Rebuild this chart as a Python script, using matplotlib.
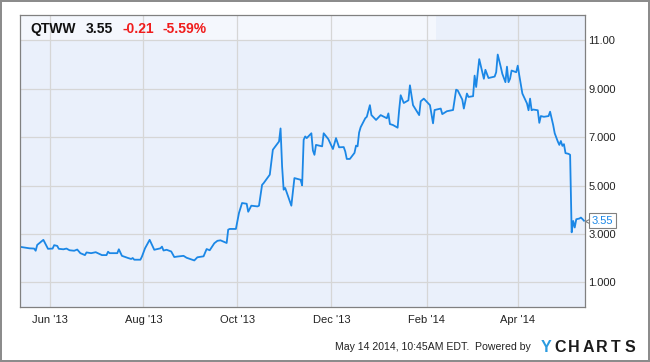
import matplotlib
matplotlib.use("Agg")
import matplotlib.pyplot as plt
import matplotlib.transforms as mtransforms
import pandas as pd

# QTWW daily close
dates = [
    "2013-05-12", "2013-05-14", "2013-05-19", "2013-05-22", "2013-05-23", "2013-05-24",
    "2013-05-28", "2013-05-31", "2013-06-03", "2013-06-04", "2013-06-06", "2013-06-07",
    "2013-06-10", "2013-06-12", "2013-06-14", "2013-06-17", "2013-06-19", "2013-06-21",
    "2013-06-24", "2013-06-25", "2013-06-28", "2013-07-01", "2013-07-05", "2013-07-08",
    "2013-07-09", "2013-07-10", "2013-07-15", "2013-07-16", "2013-07-18", "2013-07-22",
    "2013-07-24", "2013-07-25", "2013-07-26", "2013-07-30", "2013-07-31", "2013-08-02",
    "2013-08-05", "2013-08-08", "2013-08-12", "2013-08-13", "2013-08-14", "2013-08-16",
    "2013-08-19", "2013-08-21", "2013-08-23", "2013-08-27", "2013-08-29", "2013-09-03",
    "2013-09-05", "2013-09-09", "2013-09-11", "2013-09-13", "2013-09-16", "2013-09-18",
    "2013-09-20", "2013-09-23", "2013-09-24", "2013-09-25", "2013-09-26", "2013-09-30",
    "2013-10-02", "2013-10-04", "2013-10-07", "2013-10-08", "2013-10-10", "2013-10-14",
    "2013-10-15", "2013-10-17", "2013-10-18", "2013-10-22", "2013-10-24", "2013-10-28",
    "2013-10-29", "2013-10-30", "2013-10-31", "2013-11-01", "2013-11-05", "2013-11-07",
    "2013-11-11", "2013-11-12", "2013-11-13", "2013-11-14", "2013-11-15", "2013-11-18",
    "2013-11-19", "2013-11-20", "2013-11-21", "2013-11-25", "2013-11-26", "2013-11-29",
    "2013-12-02", "2013-12-04", "2013-12-06", "2013-12-09", "2013-12-10", "2013-12-11",
    "2013-12-13", "2013-12-16", "2013-12-17", "2013-12-18", "2013-12-19", "2013-12-20",
    "2013-12-23", "2013-12-24", "2013-12-26", "2013-12-27", "2013-12-30", "2014-01-02",
    "2014-01-06", "2014-01-07", "2014-01-08", "2014-01-10", "2014-01-13", "2014-01-14",
    "2014-01-15", "2014-01-17", "2014-01-20", "2014-01-21", "2014-01-23", "2014-01-27",
    "2014-01-28", "2014-01-30", "2014-02-03", "2014-02-05", "2014-02-06", "2014-02-10",
    "2014-02-11", "2014-02-14", "2014-02-18", "2014-02-20", "2014-02-21", "2014-02-24",
    "2014-02-25", "2014-02-27", "2014-02-28", "2014-03-03", "2014-03-04", "2014-03-05",
    "2014-03-07", "2014-03-10", "2014-03-11", "2014-03-13", "2014-03-17", "2014-03-18",
    "2014-03-19", "2014-03-21", "2014-03-22", "2014-03-24", "2014-03-25", "2014-03-26",
    "2014-03-27", "2014-03-28", "2014-03-31", "2014-04-01", "2014-04-02", "2014-04-04",
    "2014-04-07", "2014-04-08", "2014-04-09", "2014-04-10", "2014-04-11", "2014-04-14",
    "2014-04-15", "2014-04-16", "2014-04-18", "2014-04-21", "2014-04-22", "2014-04-24",
    "2014-04-25", "2014-04-27", "2014-04-28", "2014-04-29", "2014-04-30", "2014-05-01",
    "2014-05-02", "2014-05-04", "2014-05-05", "2014-05-06", "2014-05-07", "2014-05-08",
    "2014-05-09", "2014-05-11", "2014-05-12", "2014-05-13", "2014-05-14",
]
prices = [
    2.48, 2.46, 2.41, 2.40, 2.31, 2.55,
    2.76, 2.39, 2.40, 2.54, 2.51, 2.39,
    2.37, 2.40, 2.33, 2.31, 2.36, 2.21,
    2.13, 2.24, 2.21, 2.25, 2.13, 2.13,
    2.27, 2.21, 2.21, 2.37, 2.10, 2.01,
    1.97, 2.01, 1.94, 1.94, 2.07, 2.41,
    2.76, 2.35, 2.41, 2.48, 2.32, 2.35,
    2.28, 2.05, 2.07, 2.10, 2.02, 1.91,
    2.04, 2.08, 2.38, 2.33, 2.62, 2.72,
    2.74, 2.66, 2.63, 3.18, 3.21, 3.21,
    3.87, 4.28, 4.25, 3.92, 4.17, 4.14,
    4.17, 5.03, 5.10, 5.45, 6.48, 6.82,
    7.36, 5.79, 4.83, 4.90, 4.17, 5.31,
    5.24, 5.01, 6.89, 7.03, 6.96, 7.16,
    6.45, 6.27, 6.68, 6.62, 7.16, 6.92,
    6.51, 6.96, 6.58, 6.59, 6.41, 6.10,
    6.10, 6.35, 6.65, 6.62, 7.19, 7.41,
    7.78, 7.84, 8.32, 7.91, 7.71, 7.91,
    7.78, 7.98, 7.54, 7.50, 7.39, 8.12,
    8.73, 8.41, 8.52, 9.14, 8.32, 7.91,
    8.48, 8.59, 8.32, 7.57, 8.12, 8.18,
    7.95, 8.07, 8.12, 8.96, 8.93, 8.55,
    8.18, 8.80, 8.66, 8.69, 9.54, 9.07,
    10.22, 9.41, 9.78, 9.44, 9.50, 9.68,
    10.41, 9.89, 9.61, 9.27, 9.91, 9.27,
    9.41, 9.75, 9.68, 9.95, 9.55, 8.80,
    8.39, 8.11, 8.59, 8.11, 8.14, 8.11,
    7.59, 7.87, 7.84, 7.87, 8.05, 7.50,
    7.16, 6.82, 6.68, 6.84, 6.64, 6.71,
    6.34, 6.31, 6.27, 3.07, 3.54, 3.27,
    3.61, 3.64, 3.68, 3.62, 3.55,
]

ticker = "QTWW"
last_price = 3.55
change = -0.21
change_pct = -5.59

ytick_vals = [1, 3, 5, 7, 9, 11]
ytick_labels = ["1.000", "3.000", "5.000", "7.000", "9.000", "11.00"]
xtick_dates = pd.date_range("2013-06-01", "2014-04-01", freq="2MS")

blue = "#1b87e6"
plt.rcParams["font.family"] = ["Liberation Sans", "DejaVu Sans"]

fig = plt.figure(figsize=(6.5, 3.62), dpi=100, facecolor="white",
                 edgecolor="#8c8c8c", linewidth=1.5)
ax = fig.add_axes([19.5 / 650, 1 - 306.7 / 362, 565.5 / 650, 291.4 / 362])
ax.set_facecolor("#eaf0fb")

x = pd.to_datetime(dates)
ax.plot(x, prices, color=blue, lw=1.3, zorder=2)

ax.set_xlim(pd.Timestamp("2013-05-12 12:00"), pd.Timestamp("2014-05-14 16:00"))
ax.set_ylim(0, 12.03)

# lighter header band
ax.axhspan(11, 12.03, xmin=0, xmax=0.737, color="#f4f7fd", zorder=0.2, lw=0)

ax.set_axisbelow(True)
ax.grid(True, color="#d6d6d6", lw=0.9)

ax.set_xticks(xtick_dates)
ax.set_xticklabels([d.strftime("%b '%y") for d in xtick_dates])
ax.set_yticks(ytick_vals)
ax.set_yticklabels(ytick_labels)
ax.yaxis.tick_right()
ax.tick_params(axis="y", length=0, pad=2.5, labelsize=8, labelcolor="#222222")
ax.tick_params(axis="x", length=0, pad=6, labelsize=8, labelcolor="#222222")
for s in ax.spines.values():
    s.set_color("#808080")
    s.set_linewidth(0.9)

# last value flag
notch = mtransforms.ScaledTranslation(0.038, 0, fig.dpi_scale_trans)
ax.plot([1.0], [prices[-1]], marker="<", ms=5.5, mfc="white", mec="#808080",
        mew=0.8, clip_on=False, transform=ax.get_yaxis_transform() + notch, zorder=2.5)
ax.annotate(f"{last_price:.2f}", xy=(1, prices[-1]), xycoords=("axes fraction", "data"),
            xytext=(5, 0), textcoords="offset points", ha="left", va="center",
            fontsize=8, color=blue, annotation_clip=False, zorder=3,
            bbox=dict(boxstyle="square,pad=0.25", fc="white", ec="#808080", lw=0.8))

# header
hy = 1 - 28.8 / 362
fig.text(30.7 / 650, hy, ticker, fontsize=10, fontweight="bold", color="#111111", va="center")
fig.text(86 / 650, hy, f"{last_price:.2f}", fontsize=10, fontweight="bold", color="#111111", va="center")
fig.text(122.7 / 650, hy, f"{change:.2f}", fontsize=10, fontweight="bold", color="#f01c1c", va="center")
fig.text(163 / 650, hy, f"{change_pct:.2f}%", fontsize=10, fontweight="bold", color="#f01c1c", va="center")

# footer
fy = 1 - 347 / 362
fig.text(335 / 650, fy, "May 14 2014, 10:45AM EDT.  Powered by", fontsize=7.6,
         color="#222222", va="center")
for i, ch in enumerate("YCHARTS"):
    fig.text((546 + i * 14.0) / 650, fy, ch, fontsize=11.5, fontweight="bold",
             color="#2a9be0" if i == 0 else "#1c1c1c", ha="center", va="center")

fig.savefig("out.png", dpi=100)
